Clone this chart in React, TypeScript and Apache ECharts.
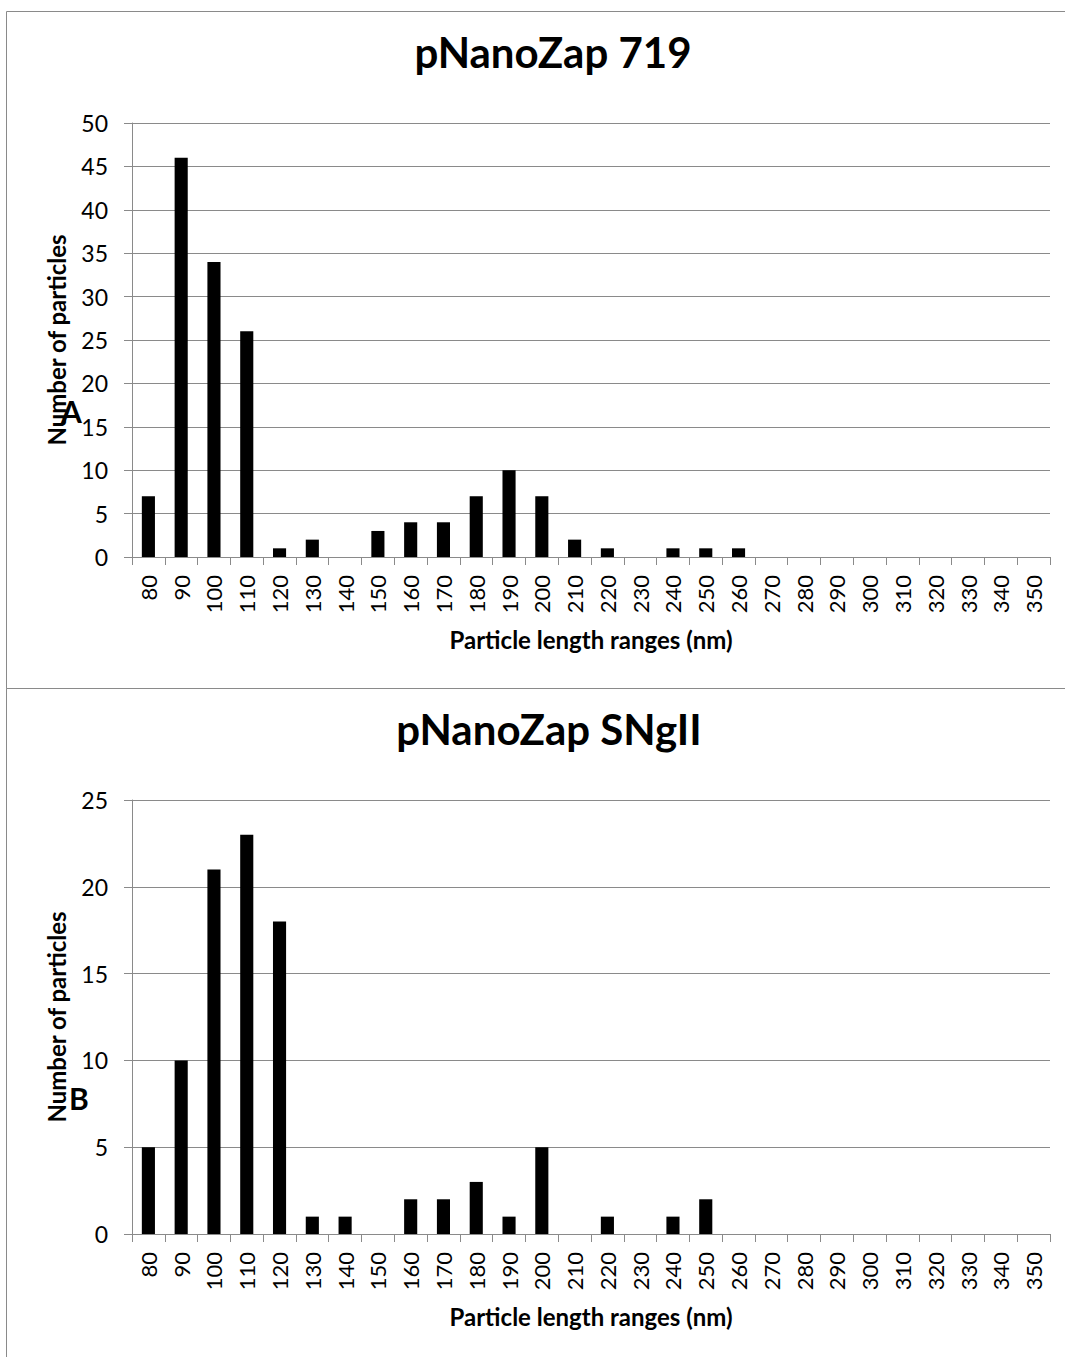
import React, { useEffect, useRef } from "react";
import * as echarts from "echarts";

const categories = ["80","90","100","110","120","130","140","150","160","170","180","190","200","210","220","230","240","250","260","270","280","290","300","310","320","330","340","350"];
const valuesA = [7,46,34,26,1,2,0,3,4,4,7,10,7,2,1,0,1,1,1,0,0,0,0,0,0,0,0,0];
const valuesB = [5,10,21,23,18,1,1,0,2,2,3,1,5,0,1,0,1,2,0,0,0,0,0,0,0,0,0,0];
const titleA = "pNanoZap 719";
const titleB = "pNanoZap SNgII";
const yTitle = "Number of particles";
const xTitle = "Particle length ranges (nm)";

const FONT = "Lato, 'Open Sans', sans-serif";
const GRID = "#8a8a8a";

function xAxis(gridIndex: number) {
  return {
    type: "category",
    gridIndex,
    data: categories,
    name: xTitle,
    nameLocation: "middle",
    nameGap: 70,
    nameTextStyle: { fontFamily: FONT, fontWeight: "bold", fontSize: 24, color: "#000", verticalAlign: "top" },
    axisLine: { lineStyle: { color: GRID, width: 1 } },
    axisTick: { show: true, length: 8, lineStyle: { color: GRID } },
    axisLabel: { rotate: 90, fontFamily: FONT, fontSize: 22, color: "#000", margin: 18, interval: 0 },
  };
}

function yAxis(gridIndex: number, max: number) {
  return {
    type: "value",
    gridIndex,
    min: 0,
    max,
    interval: 5,
    name: yTitle,
    nameLocation: "middle",
    nameGap: 64,
    nameTextStyle: { fontFamily: FONT, fontWeight: "bold", fontSize: 24, color: "#000" },
    axisLine: { show: true, lineStyle: { color: GRID, width: 1 } },
    axisTick: { show: true, length: 8, inside: false, lineStyle: { color: GRID } },
    splitLine: { show: true, lineStyle: { color: GRID, width: 1 } },
    axisLabel: { fontFamily: FONT, fontSize: 23, color: "#000", margin: 24 },
  };
}

export default function App() {
  const ref = useRef<HTMLDivElement>(null);
  useEffect(() => {
    if (!ref.current) return;
    const chart = echarts.init(ref.current, undefined, { renderer: "svg" });
    chart.setOption({
      animation: false,
      backgroundColor: "#fff",
      title: [
        { text: titleA, top: 26, left: 548, textAlign: "center", textStyle: { fontFamily: FONT, fontWeight: "bold", fontSize: 42, color: "#000" } },
        { text: titleB, top: 703, left: 544, textAlign: "center", textStyle: { fontFamily: FONT, fontWeight: "bold", fontSize: 42, color: "#000" } },
      ],
      grid: [
        { left: 132, top: 123, width: 918, height: 434 },
        { left: 132, top: 800, width: 918, height: 434 },
      ],
      xAxis: [xAxis(0), xAxis(1)],
      yAxis: [yAxis(0, 50), yAxis(1, 25)],
      series: [
        { type: "bar", xAxisIndex: 0, yAxisIndex: 0, data: valuesA, barWidth: "40%", itemStyle: { color: "#000" } },
        { type: "bar", xAxisIndex: 1, yAxisIndex: 1, data: valuesB, barWidth: "40%", itemStyle: { color: "#000" } },
      ],
      graphic: [
        { type: "rect", shape: { x: 6.5, y: 11.5, width: 1070, height: 677 }, style: { fill: "none", stroke: GRID, lineWidth: 1 }, z: -1 },
        { type: "rect", shape: { x: 6.5, y: 688.5, width: 1070, height: 700 }, style: { fill: "none", stroke: GRID, lineWidth: 1 }, z: -1 },
        { type: "text", left: 61, top: 396, style: { text: "A", fontFamily: FONT, fontWeight: "bold", fontSize: 30, fill: "#000" }, z: 10 },
        { type: "text", left: 69, top: 1083, style: { text: "B", fontFamily: FONT, fontWeight: "bold", fontSize: 30, fill: "#000" }, z: 10 },
      ],
    });
    return () => chart.dispose();
  }, []);
  return <div ref={ref} style={{ position: "absolute", left: 0, top: 0, width: 1065, height: 1357 }} />;
}
